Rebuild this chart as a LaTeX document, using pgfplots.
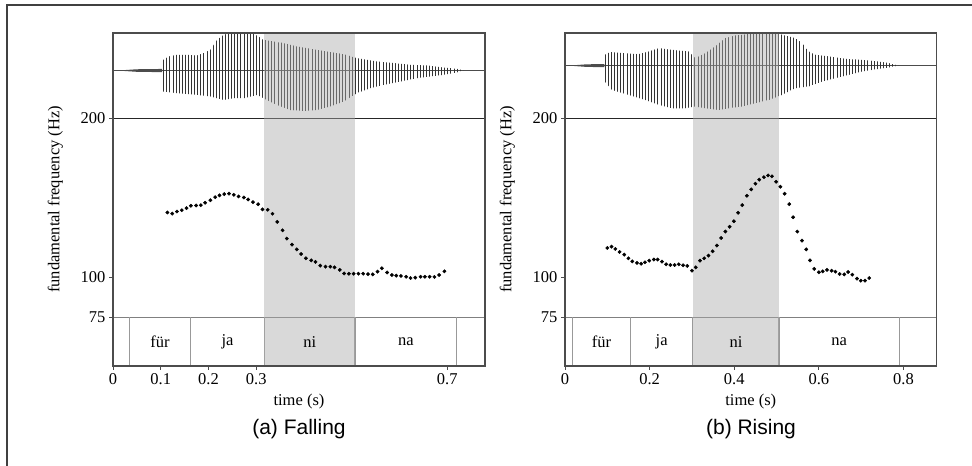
\documentclass[border=0pt]{standalone}
\usepackage{fontspec}
\setmainfont{Liberation Serif}
\newfontfamily\capfont{Liberation Sans}
\usepackage{pgfplots}
\usepackage{pgfplotstable}
\pgfplotsset{compat=1.18}
\usetikzlibrary{patterns.meta}

% F0 contours (time in s, Hz)
\pgfplotstableread{
t f
0.114 140.8
0.124 140.1
0.134 141.4
0.144 142.2
0.154 143.5
0.163 145.0
0.174 145.2
0.184 145.4
0.193 146.9
0.204 148.5
0.214 150.4
0.223 151.5
0.233 152.3
0.243 152.6
0.253 151.9
0.263 150.9
0.274 150.2
0.283 149.0
0.293 147.3
0.304 146.0
0.313 142.7
0.324 142.5
0.334 140.0
0.344 134.9
0.355 129.6
0.364 124.4
0.375 120.6
0.385 117.6
0.394 114.7
0.404 112.0
0.415 110.7
0.424 109.7
0.434 107.4
0.445 106.7
0.455 106.7
0.464 106.3
0.475 104.7
0.484 102.5
0.494 102.3
0.504 102.3
0.514 102.3
0.524 102.3
0.534 102.1
0.544 101.9
0.554 103.6
0.563 105.7
0.574 103.1
0.584 101.5
0.593 101.1
0.603 100.9
0.614 100.4
0.623 99.6
0.633 99.8
0.644 100.4
0.653 100.4
0.663 100.4
0.673 100.3
0.683 101.5
0.694 103.8
}\fallA

\pgfplotstableread{
t f
0.100 118.5
0.110 119.3
0.119 117.9
0.129 116.0
0.140 114.3
0.150 112.0
0.159 110.1
0.170 109.1
0.180 108.6
0.189 109.5
0.199 110.5
0.210 111.2
0.219 111.2
0.229 109.9
0.239 108.2
0.249 107.8
0.259 107.8
0.269 108.2
0.279 107.6
0.289 107.2
0.300 104.2
0.309 106.3
0.319 110.5
0.329 112.0
0.339 113.7
0.349 116.4
0.359 120.0
0.369 124.8
0.379 128.8
0.389 131.8
0.399 135.3
0.409 140.6
0.419 145.4
0.430 151.3
0.440 155.3
0.450 158.9
0.459 161.4
0.470 163.0
0.480 164.1
0.489 163.5
0.499 160.1
0.509 157.0
0.519 152.6
0.530 146.0
0.539 137.8
0.549 128.8
0.560 123.1
0.570 117.6
0.579 110.7
0.589 105.3
0.600 103.2
0.609 103.8
0.619 104.7
0.630 104.2
0.639 103.6
0.649 102.1
0.660 101.9
0.669 103.4
0.679 101.7
0.690 99.2
0.699 97.9
0.709 97.9
0.719 99.6
}\riseB

% oscillogram envelopes: upper edge forward, lower edge back
\pgfplotstableread{
t a
0.105 236.7
0.117 238.9
0.134 239.9
0.155 239.9
0.176 239.5
0.190 241.0
0.204 243.0
0.218 249.3
0.232 252.5
0.246 253.6
0.294 253.6
0.315 249.3
0.336 248.3
0.357 247.3
0.385 245.2
0.413 243.7
0.448 242.0
0.483 240.3
0.511 237.8
0.553 235.7
0.588 234.7
0.623 233.6
0.658 233.2
0.692 231.9
0.720 231.1
0.734 230.1
0.720 228.8
0.692 227.3
0.665 226.3
0.637 225.2
0.602 223.1
0.567 221.0
0.539 218.9
0.511 215.8
0.483 210.5
0.455 207.4
0.427 205.2
0.399 204.6
0.371 205.2
0.343 208.4
0.315 212.6
0.302 214.7
0.274 212.6
0.253 212.6
0.232 211.5
0.204 213.7
0.176 214.7
0.134 215.8
0.105 216.8
}\waveA

\pgfplotstableread{
t a
0.094 239.9
0.107 241.6
0.135 241.0
0.174 240.3
0.198 242.0
0.222 244.1
0.253 243.0
0.292 242.0
0.308 237.8
0.332 241.0
0.355 245.2
0.379 250.4
0.403 252.1
0.434 252.9
0.466 253.6
0.497 253.6
0.513 252.5
0.544 250.4
0.560 247.3
0.576 242.0
0.592 239.9
0.623 238.9
0.663 237.4
0.702 236.7
0.742 235.7
0.765 234.7
0.781 233.6
0.789 233.2
0.765 231.9
0.742 231.1
0.702 229.4
0.671 227.3
0.639 225.2
0.608 223.1
0.576 220.0
0.544 218.9
0.513 214.7
0.482 211.5
0.450 209.5
0.418 207.4
0.387 206.3
0.363 205.2
0.332 206.3
0.308 207.4
0.284 206.3
0.253 206.3
0.222 208.4
0.190 211.5
0.150 214.7
0.111 217.8
0.094 223.1
}\waveB

\pgfplotsset{
  pitch/.style={
    scale only axis, height=333bp,
    xmin=0, ymin=44.3, ymax=253.6,
    axis on top,
    axis line style={draw=black!70, line width=1.1bp},
    tick style={draw=black!70, line width=0.9bp},
    tick align=outside, tick pos=left, major tick length=4bp,
    ytick={75,100,200},
    /pgf/number format/assume math mode=true,
    tick label style={font=\fontsize{16.5bp}{18bp}\selectfont},
    label style={font=\fontsize{16.5bp}{18bp}\selectfont},
    xlabel={time (s)}, ylabel={fundamental frequency (Hz)},
    xlabel style={at={(axis description cs:0.5,-0.108)}, anchor=center},
    ylabel style={at={(axis description cs:-0.155,0.5)}, anchor=center},
  },
  wave/.style={draw=none, pattern={Lines[angle=90,distance=3.1pt,line width=0.85pt]}, pattern color=black!80},
  fzero/.style={only marks, mark=*, mark size=1.7bp, black},
  tier/.style={only marks, mark=none, nodes near coords, point meta=explicit symbolic,
    nodes near coords style={anchor=center, font=\fontsize{16.5bp}{18bp}\selectfont}},
}

\begin{document}
\begin{tikzpicture}
\useasboundingbox (0,0) rectangle (972bp,466bp);
\draw[black!75, line width=1.5bp] (7bp,0) -- (7bp,461bp) -- (972bp,461bp);

% (a) falling
\begin{axis}[pitch, at={(113bp,100bp)}, anchor=south west, width=372bp,
  xmax=0.779, xtick={0,0.1,0.2,0.3,0.7}]
  \addplot[black!70, line width=0.8bp] coordinates {(0,230) (0.779,230)};
  \addplot[fill=black!70, draw=none] coordinates {(0.01,230) (0.05,230.8) (0.103,231.0) (0.103,229.0) (0.05,229.2)};
  \addplot[wave] table[x=t, y=a] {\waveA};
  \addplot[black!85, line width=1bp] coordinates {(0,200) (0.779,200)};
  \addplot[black!50, line width=1.1bp] coordinates {(0,75) (0.779,75)};
  \addplot[ycomb, black!40, line width=1.3bp, mark=none] coordinates {(0.034,75) (0.163,75) (0.317,75) (0.507,75) (0.720,75)};
  \addplot[fzero] table[x=t, y=f] {\fallA};
  \addplot[tier] coordinates {(0.0985,59.6)[für] (0.240,59.6)[ja] (0.412,59.6)[ni] (0.6135,59.6)[na]};
  \addplot[draw=none, fill=black!33, fill opacity=0.45] coordinates {(0.317,44.3) (0.507,44.3) (0.507,253.6) (0.317,253.6)};
\end{axis}
\node[font=\capfont\fontsize{21bp}{24bp}\selectfont] at (299bp,37bp) {(a) Falling};

% (b) rising
\begin{axis}[pitch, at={(565bp,100bp)}, anchor=south west, width=371.5bp,
  xmax=0.878, xtick={0,0.2,0.4,0.6,0.8}]
  \addplot[black!70, line width=0.8bp] coordinates {(0,233.1) (0.878,233.1)};
  \addplot[fill=black!70, draw=none] coordinates {(0.01,233.1) (0.05,233.9) (0.093,234.1) (0.093,232.1) (0.05,232.3)};
  \addplot[wave] table[x=t, y=a] {\waveB};
  \addplot[black!85, line width=1bp] coordinates {(0,200) (0.878,200)};
  \addplot[black!50, line width=1.1bp] coordinates {(0,75) (0.878,75)};
  \addplot[ycomb, black!40, line width=1.3bp, mark=none] coordinates {(0.018,75) (0.155,75) (0.302,75) (0.506,75) (0.790,75)};
  \addplot[fzero] table[x=t, y=f] {\riseB};
  \addplot[tier] coordinates {(0.0865,59.6)[für] (0.2285,59.6)[ja] (0.404,59.6)[ni] (0.648,59.6)[na]};
  \addplot[draw=none, fill=black!33, fill opacity=0.45] coordinates {(0.302,44.3) (0.506,44.3) (0.506,253.6) (0.302,253.6)};
\end{axis}
\node[font=\capfont\fontsize{21bp}{24bp}\selectfont] at (751bp,37bp) {(b) Rising};
\end{tikzpicture}
\end{document}
